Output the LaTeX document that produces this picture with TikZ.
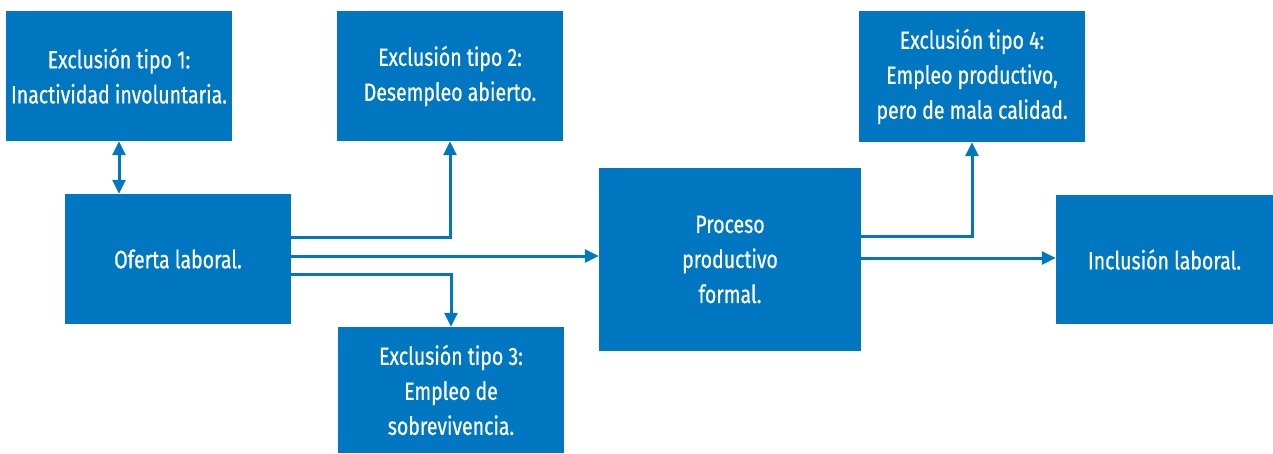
\documentclass[tikz,border=0pt]{standalone}
\usepackage{fontspec}
\newfontfamily\boxfont{Fira Sans}[FakeStretch=0.78,FakeBold=0.6]
\usetikzlibrary{arrows.meta}
\definecolor{boxblue}{HTML}{0077C0}
\tikzset{
  box/.style={fill=boxblue, draw=none, text=white, align=center, inner sep=0pt,
    font=\boxfont\fontsize{25}{35}\selectfont},
  conn/.style={draw=boxblue, line width=3pt, -{Triangle[length=14pt,width=13pt]}},
  conn2/.style={draw=boxblue, line width=3pt, {Triangle[length=14pt,width=13pt]}-{Triangle[length=14pt,width=13pt]}}
}
\begin{document}
\begin{tikzpicture}[x=1pt,y=-1pt]
\useasboundingbox (0,0) rectangle (1273,453);
\node[box, minimum width=226pt, minimum height=130pt] (b1) at (119,76) {Exclusión tipo 1:\\Inactividad involuntaria.};
\node[box, minimum width=226pt, minimum height=130pt] (of) at (178,259) {Oferta laboral.};
\node[box, minimum width=226pt, minimum height=130pt] (b2) at (450,76) {Exclusión tipo 2:\\Desempleo abierto.};
\node[box, minimum width=226pt, minimum height=126pt] (b3) at (451,390) {Exclusión tipo 3:\\Empleo de\\sobrevivencia.};
\node[box, minimum width=262pt, minimum height=183pt] (pp) at (730,259.5) {Proceso\\productivo\\formal.};
\node[box, minimum width=226pt, minimum height=131pt] (b4) at (972,76.5) {Exclusión tipo 4:\\Empleo productivo,\\pero de mala calidad.};
\node[box, minimum width=217pt, minimum height=129pt] (inc) at (1164.5,259.5) {Inclusión laboral.};
\draw[conn2] (b1.south) -- (b1.south |- of.north);
\draw[conn] ([yshift=22pt]of.east) -| (b2.south);
\draw[conn] ([yshift=3pt]of.east) -- ([yshift=3pt]of.east -| pp.west);
\draw[conn] ([yshift=-15pt]of.east) -| (b3.north);
\draw[conn] ([yshift=23pt]pp.east) -| (b4.south);
\draw[conn] ([yshift=1.5pt]pp.east) -- ([yshift=1.5pt]pp.east -| inc.west);
\end{tikzpicture}
\end{document}
